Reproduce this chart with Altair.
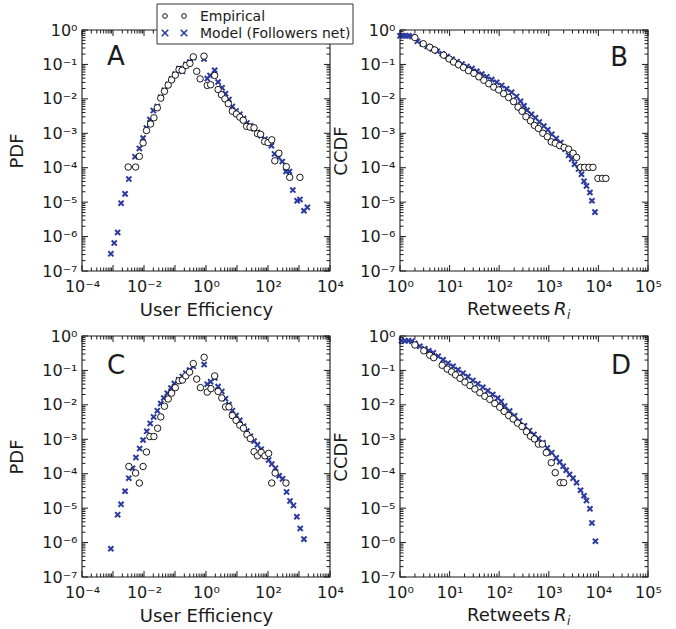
import altair as alt
import pandas as pd

FONT = "DejaVu Sans"
BLUE = "#2b3a9e"
INK = "#1a1a1a"
W, H = 248, 241

# ---- data: (log10 x, log10 y) ----
a_emp = [(-2.51,-3.98),(-2.27,-3.98),(-2.15,-3.67),(-2.03,-3.28),(-1.92,-2.92),(-1.79,-2.73),
         (-1.68,-2.55),(-1.57,-2.26),(-1.46,-1.98),(-1.34,-1.78),(-1.22,-1.60),(-1.11,-1.45),
         (-0.99,-1.31),(-0.87,-1.15),(-0.77,-1.17),(-0.64,-1.03),(-0.52,-0.97),(-0.41,-0.78),
         (-0.30,-1.20),(-0.19,-1.42),(-0.065,-0.76),(0.04,-1.61),(0.15,-1.59),(0.28,-1.32),
         (0.39,-1.73),(0.50,-1.88),(0.61,-2.00),(0.72,-2.14),(0.85,-2.36),(0.98,-2.44),
         (1.09,-2.53),(1.20,-2.62),(1.31,-2.80),(1.42,-2.82),(1.55,-2.84),(1.66,-3.01),
         (1.76,-3.03),(1.89,-3.24),(2.00,-3.27),(2.12,-3.19),(2.22,-3.80),(2.35,-3.58),
         (2.59,-3.97),(2.70,-4.28),(3.03,-4.28)]
a_mod = [(-3.07,-6.50),(-2.96,-6.19),(-2.85,-5.88),(-2.74,-5.03),(-2.61,-4.76),(-2.49,-4.33),
         (-2.29,-3.68),(-2.15,-3.44),(-2.03,-3.14),(-1.92,-2.85),(-1.81,-2.60),(-1.70,-2.34),
         (-1.57,-2.22),(-1.46,-1.95),(-1.34,-1.75),(-1.22,-1.58),(-1.11,-1.42),(-0.99,-1.28),
         (-0.87,-1.12),(-0.76,-1.20),(-0.64,-1.00),(-0.52,-0.93),(-0.41,-0.80),(-0.065,-0.84),
         (0.04,-1.41),(0.13,-1.32),(0.28,-1.17),(0.39,-1.51),(0.52,-1.68),(0.63,-1.85),
         (0.74,-2.02),(0.85,-2.22),(0.97,-2.35),(1.09,-2.45),(1.21,-2.57),(1.32,-2.70),
         (1.43,-2.78),(1.55,-2.87),(1.66,-2.98),(1.78,-3.07),(1.90,-3.17),(2.00,-3.25),
         (2.11,-3.36),(2.21,-3.60),(2.34,-3.70),(2.46,-3.82),(2.58,-4.11),(2.69,-4.11),
         (2.80,-4.65),(2.94,-4.96),(3.03,-4.92),(3.16,-5.25),(3.27,-5.15)]

b_emp = [(0.30,-0.22),(0.47,-0.40),(0.60,-0.50),(0.70,-0.58),(0.88,-0.73),(0.99,-0.84),
         (1.08,-0.93),(1.18,-1.01),(1.28,-1.09),(1.38,-1.18),(1.49,-1.26),(1.59,-1.36),
         (1.69,-1.46),(1.79,-1.56),(1.89,-1.66),(1.99,-1.74),(2.09,-1.85),(2.19,-1.96),
         (2.29,-2.08),(2.38,-2.24),(2.46,-2.36),(2.54,-2.52),(2.63,-2.64),(2.71,-2.77),
         (2.79,-2.86),(2.88,-3.00),(2.97,-3.10),(3.05,-3.25),(3.13,-3.29),(3.22,-3.36),
         (3.31,-3.41),(3.40,-3.46),(3.49,-3.58),(3.56,-3.70),(3.64,-3.99),(3.72,-3.99),
         (3.81,-3.99),(3.89,-3.99),(3.99,-4.31),(4.08,-4.31),(4.15,-4.31)]
b_mod = [(0.00,-0.17),(0.06,-0.17),(0.12,-0.17),(0.18,-0.17),(0.24,-0.19),(0.35,-0.33),
         (0.45,-0.40),(0.55,-0.48),(0.65,-0.55),(0.75,-0.62),(0.85,-0.69),(0.95,-0.77),
         (1.05,-0.85),(1.15,-0.92),(1.25,-0.99),(1.35,-1.06),(1.45,-1.12),(1.55,-1.20),
         (1.65,-1.28),(1.75,-1.36),(1.85,-1.44),(1.95,-1.52),(2.05,-1.61),(2.15,-1.71),
         (2.25,-1.81),(2.35,-1.93),(2.43,-2.07),(2.50,-2.20),(2.56,-2.33),(2.65,-2.45),
         (2.73,-2.55),(2.81,-2.67),(2.90,-2.79),(2.98,-2.90),(3.06,-3.03),(3.15,-3.15),
         (3.24,-3.27),(3.33,-3.46),(3.40,-3.64),(3.46,-3.75),(3.52,-3.90),(3.60,-4.04),
         (3.66,-4.19),(3.71,-4.39),(3.76,-4.53),(3.83,-4.72),(3.87,-4.96),(3.93,-5.29)]

c_emp = [(-2.49,-3.79),(-2.27,-3.98),(-2.15,-4.27),(-2.03,-3.79),(-1.92,-3.37),(-1.81,-2.92),
         (-1.68,-2.92),(-1.56,-2.68),(-1.46,-2.35),(-1.34,-2.04),(-1.22,-1.83),(-1.11,-1.66),
         (-0.99,-1.50),(-0.87,-1.30),(-0.76,-1.28),(-0.65,-1.16),(-0.53,-1.05),(-0.41,-0.80),
         (-0.30,-1.25),(-0.18,-1.50),(-0.06,-0.62),(0.04,-1.63),(0.16,-1.53),(0.28,-1.16),
         (0.39,-1.61),(0.51,-1.80),(0.63,-2.06),(0.74,-2.06),(0.85,-2.31),(0.97,-2.45),
         (1.09,-2.59),(1.21,-2.68),(1.32,-2.86),(1.43,-2.98),(1.55,-3.36),(1.66,-3.48),
         (1.78,-3.38),(1.90,-3.48),(2.02,-3.41),(2.12,-4.27),(2.23,-3.98),(2.58,-4.27)]
c_mod = [(-3.07,-6.18),(-2.85,-5.19),(-2.74,-4.89),(-2.61,-4.51),(-2.49,-4.13),(-2.37,-3.84),
         (-2.26,-3.53),(-2.14,-3.27),(-2.03,-3.02),(-1.91,-2.77),(-1.80,-2.54),(-1.69,-2.35),
         (-1.57,-2.17),(-1.46,-1.96),(-1.36,-1.80),(-1.25,-1.66),(-1.13,-1.51),(-1.02,-1.38),
         (-0.88,-1.27),(-0.76,-1.18),(-0.65,-1.08),(-0.53,-0.99),(-0.41,-0.88),(-0.06,-0.83),
         (0.04,-1.40),(0.15,-1.33),(0.28,-1.22),(0.39,-1.47),(0.51,-1.61),(0.63,-1.82),
         (0.74,-1.99),(0.85,-2.17),(0.97,-2.31),(1.09,-2.45),(1.21,-2.62),(1.32,-2.76),
         (1.43,-2.91),(1.55,-3.05),(1.66,-3.16),(1.78,-3.29),(1.90,-3.43),(2.02,-3.60),
         (2.12,-3.72),(2.24,-3.84),(2.36,-4.06),(2.47,-4.15),(2.60,-4.53),(2.71,-4.79),
         (2.82,-4.92),(2.93,-5.25),(3.04,-5.59),(3.16,-5.90)]

d_emp = [(0.30,-0.26),(0.48,-0.43),(0.60,-0.56),(0.68,-0.63),(0.85,-0.85),(0.95,-0.96),
         (1.04,-1.04),(1.12,-1.13),(1.21,-1.23),(1.31,-1.34),(1.41,-1.44),(1.51,-1.54),
         (1.61,-1.65),(1.71,-1.75),(1.81,-1.84),(1.91,-1.96),(2.01,-2.07),(2.10,-2.19),
         (2.19,-2.31),(2.28,-2.41),(2.37,-2.53),(2.46,-2.63),(2.55,-2.78),(2.63,-2.91),
         (2.71,-2.99),(2.79,-3.14),(2.87,-3.14),(2.95,-3.39),(3.05,-3.68),(3.13,-3.97),
         (3.23,-4.26),(3.30,-4.26)]
d_mod = [(0.03,-0.14),(0.10,-0.14),(0.17,-0.14),(0.24,-0.15),(0.30,-0.22),(0.40,-0.30),
         (0.50,-0.37),(0.58,-0.43),(0.67,-0.49),(0.77,-0.59),(0.87,-0.69),(0.97,-0.79),
         (1.07,-0.88),(1.17,-0.98),(1.27,-1.08),(1.37,-1.18),(1.47,-1.29),(1.57,-1.39),
         (1.67,-1.49),(1.77,-1.59),(1.87,-1.70),(1.97,-1.80),(2.04,-1.90),(2.11,-2.03),
         (2.21,-2.18),(2.31,-2.32),(2.41,-2.47),(2.51,-2.61),(2.61,-2.75),(2.70,-2.86),
         (2.79,-2.98),(2.88,-3.10),(2.97,-3.25),(3.06,-3.39),(3.15,-3.54),(3.22,-3.66),
         (3.29,-3.78),(3.35,-3.90),(3.42,-4.02),(3.49,-4.13),(3.56,-4.26),(3.64,-4.48),
         (3.71,-4.64),(3.76,-4.78),(3.83,-5.02),(3.87,-5.43),(3.94,-5.96)]

y_exps = list(range(-7, 1))
ue_exps = list(range(-4, 5))
ue_labeled = [-4, -2, 0, 2, 4]
rt_exps = list(range(0, 6))

legend_labels = ["Empirical", "Model (Followers net)"]

SUP = str.maketrans("-0123456789", "\u207b\u2070\u00b9\u00b2\u00b3\u2074\u2075\u2076\u2077\u2078\u2079")
MJ, MN = 6, 3.5
CROSS = "M-1,-1L1,1M-1,1L1,-1"


def label_expr(exps):
    expr = "''"
    for e in exps:
        expr = f"round(log(datum.value)/LN10) == {e} ? '10{str(e).translate(SUP)}' : ({expr})"
    return expr


def majors(exps):
    return [10.0 ** e for e in exps]


def minors(exps):
    return [k * 10.0 ** e for e in exps[:-1] for k in range(2, 10)]


def label_axis(orient, values, expr, title, tx, ty, lpad):
    kw = dict(orient=orient, values=values, domain=False, grid=False, ticks=False,
              labels=True, labelExpr=expr, labelFont=FONT, labelFontSize=16, labelColor=INK,
              labelPadding=lpad, labelOverlap=False, labelFlush=False, title=title)
    if title:
        kw.update(titleFont=FONT, titleFontSize=18, titleFontWeight="normal", titleColor=INK,
                  titleX=tx, titleY=ty, titleAlign="center")
        if orient == "left":
            kw.update(titleAngle=270, titleBaseline="middle")
        else:
            kw.update(titleBaseline="alphabetic")
    return alt.Axis(**kw)


def to_df(pts):
    return pd.DataFrame({"x": [10.0 ** p[0] for p in pts], "y": [10.0 ** p[1] for p in pts]})


def one():
    return alt.Chart(pd.DataFrame({"k": [0]}))


def text_layer(txt, x, y, size, align="left", style="normal", color=INK):
    return one().mark_text(
        text=txt, font=FONT, fontSize=size, align=align, baseline="alphabetic",
        fontStyle=style, color=color
    ).encode(x=alt.value(x), y=alt.value(y))


def xticks(values, scale, y0, y1):
    return alt.Chart(pd.DataFrame({"v": values})).mark_rule(color=INK, strokeWidth=1).encode(
        x=alt.X("v:Q", scale=scale, axis=None), y=alt.value(y0), y2=alt.value(y1))


def yticks(values, scale, x0, x1):
    return alt.Chart(pd.DataFrame({"v": values})).mark_rule(color=INK, strokeWidth=1).encode(
        y=alt.Y("v:Q", scale=scale, axis=None), x=alt.value(x0), x2=alt.value(x1))


def panel(emp, mod, xexps, xlab, xtitle, ytitle, ytx, letter, lx, lalign, ly,
          legend=False, retweets=False):
    xs = alt.Scale(type="log", domain=[10.0 ** xexps[0], 10.0 ** xexps[-1]], nice=False)
    ys = alt.Scale(type="log", domain=[1e-7, 1.0], nice=False)
    emp_df, mod_df = to_df(emp), to_df(mod)

    cross = mod_df.pipe(alt.Chart).mark_point(
        shape=CROSS, filled=False, stroke=BLUE, strokeWidth=2.0, size=26, opacity=1
    ).encode(
        x=alt.X("x:Q", scale=xs, axis=label_axis("bottom", majors(xexps), label_expr(xlab),
                                                xtitle, W / 2, 44, 7)),
        y=alt.Y("y:Q", scale=ys, axis=label_axis("left", majors(y_exps), label_expr(y_exps),
                                                ytitle, ytx, H / 2, 5)),
    )
    circ = emp_df.pipe(alt.Chart).mark_point(
        shape="circle", filled=True, fill="white", stroke="black", strokeWidth=0.9, size=42, opacity=1
    ).encode(
        x=alt.X("x:Q", scale=xs, axis=None),
        y=alt.Y("y:Q", scale=ys, axis=None),
    )
    ticks = [
        xticks(majors(xexps), xs, H - MJ, H), xticks(minors(xexps), xs, H - MN, H),
        xticks(majors(xexps), xs, 0, MJ), xticks(minors(xexps), xs, 0, MN),
        yticks(majors(y_exps), ys, 0, MJ), yticks(minors(y_exps), ys, 0, MN),
        yticks(majors(y_exps), ys, W - MJ, W), yticks(minors(y_exps), ys, W - MN, W),
    ]
    frame = one().mark_rect(fill="transparent", stroke=INK, strokeWidth=1.1).encode(
        x=alt.value(0), x2=alt.value(W), y=alt.value(0), y2=alt.value(H))

    layers = ticks + [cross, circ, frame, text_layer(letter, lx, ly, 26, lalign)]

    if retweets:
        layers += [text_layer("Retweets", 67, H + 44, 18),
                   text_layer("R", 154, H + 44, 18, style="italic"),
                   text_layer("i", 167, H + 48, 12, style="italic")]

    if legend:
        layers.append(one().mark_rect(fill="white", stroke="#333333", strokeWidth=1).encode(
            x=alt.value(75), x2=alt.value(271), y=alt.value(-26), y2=alt.value(14)))
        for mx in (83, 102):
            layers.append(one().mark_point(
                shape="circle", filled=False, stroke="black", strokeWidth=0.9, size=22, opacity=1
            ).encode(x=alt.value(mx), y=alt.value(-14)))
            layers.append(one().mark_point(
                shape=CROSS, filled=False, stroke=BLUE, strokeWidth=1.6, size=42, opacity=1
            ).encode(x=alt.value(mx), y=alt.value(3)))
        layers.append(text_layer(legend_labels[0], 118, -9, 14))
        layers.append(text_layer(legend_labels[1], 118, 8, 14))

    return alt.layer(*layers).resolve_axis(x="independent", y="independent").properties(
        width=W, height=H)


pa = panel(a_emp, a_mod, ue_exps, ue_labeled, "User Efficiency", "PDF", -65, "A", 25, "left", 35,
           legend=True)
pb = panel(b_emp, b_mod, rt_exps, rt_exps, "", "CCDF", -59, "B", 228, "right", 36, retweets=True)
pc = panel(c_emp, c_mod, ue_exps, ue_labeled, "User Efficiency", "PDF", -65, "C", 25, "left", 38)
pd_ = panel(d_emp, d_mod, rt_exps, rt_exps, "", "CCDF", -59, "D", 231, "right", 38, retweets=True)

chart = alt.concat(pa, pb, pc, pd_, columns=2, spacing={"row": 65, "column": 70},
                   bounds="flush").properties(
    padding={"left": 8, "top": 3, "right": 5, "bottom": 5}
).configure_view(strokeWidth=0)

chart.save("out.html", embed_options={"renderer": "svg", "actions": False})
